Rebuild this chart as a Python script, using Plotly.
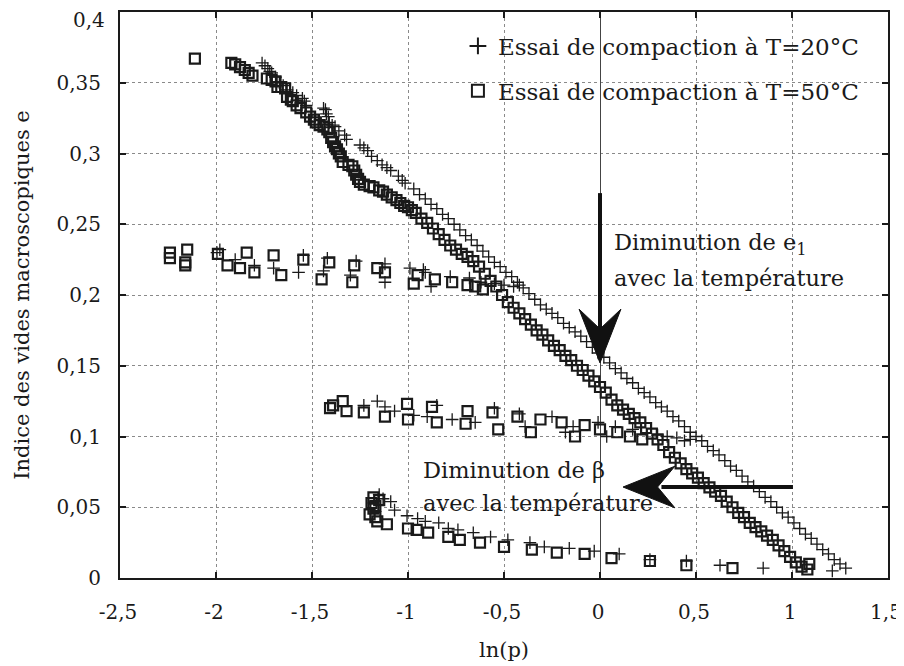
import plotly.graph_objects as go

# ---------------- data ----------------
# 20 °C test (markers "+")
x20_main = [-1.76, -1.745, -1.73, -1.72, -1.71, -1.69, -1.67, -1.65, -1.63, -1.60, -1.58, -1.55, -1.54, -1.53,
            -1.44, -1.43, -1.425, -1.415, -1.41, -1.395, -1.38, -1.36, -1.33, -1.32,
            -1.25, -1.23, -1.21, -1.19, -1.16, -1.135, -1.11, -1.09, -1.05, -1.03, -1.015,
            -0.97, -0.94, -0.91, -0.88, -0.85, -0.82, -0.79, -0.76, -0.73, -0.70, -0.67, -0.64, -0.61,
            -0.58, -0.55, -0.52, -0.49, -0.46, -0.43, -0.40, -0.37, -0.34, -0.31, -0.28, -0.25, -0.22,
            -0.19, -0.16, -0.13, -0.10, -0.07, -0.04, -0.01, 0.02, 0.05, 0.08, 0.11, 0.14, 0.17, 0.20,
            0.23, 0.26, 0.29, 0.32, 0.35, 0.38, 0.41, 0.44, 0.47, 0.50, 0.53, 0.56, 0.59, 0.62, 0.65,
            0.68, 0.71, 0.74, 0.77, 0.80, 0.83, 0.86, 0.89, 0.92, 0.95, 0.98, 1.01, 1.04, 1.07, 1.10,
            1.13, 1.16, 1.19, 1.22, 1.25, 1.28]
y20_main = [0.364, 0.362, 0.360, 0.358, 0.357, 0.354, 0.350, 0.348, 0.345, 0.343, 0.341, 0.339, 0.337, 0.334,
            0.332, 0.331, 0.328, 0.326, 0.322, 0.320, 0.319, 0.316, 0.313, 0.310,
            0.306, 0.304, 0.302, 0.298, 0.295, 0.292, 0.290, 0.288, 0.284, 0.281, 0.279,
            0.275, 0.271, 0.268, 0.264, 0.261, 0.257, 0.254, 0.250, 0.246, 0.242, 0.239, 0.235, 0.231,
            0.227, 0.223, 0.220, 0.216, 0.213, 0.209, 0.205, 0.201, 0.197, 0.193, 0.190, 0.187, 0.184,
            0.180, 0.177, 0.174, 0.171, 0.167, 0.163, 0.159, 0.156, 0.152, 0.148, 0.145, 0.141, 0.138, 0.134,
            0.131, 0.128, 0.124, 0.121, 0.118, 0.114, 0.111, 0.107, 0.103, 0.100, 0.097, 0.093, 0.090, 0.087, 0.083,
            0.079, 0.076, 0.072, 0.068, 0.065, 0.061, 0.057, 0.054, 0.050, 0.046, 0.043, 0.039, 0.035, 0.031, 0.028,
            0.024, 0.020, 0.017, 0.013, 0.010, 0.007]
x20_cycles = [-1.995, -1.98, -1.90, -1.80, -1.70, -1.57, -1.545, -1.44, -1.42, -1.30, -1.27, -1.12, -1.12,
              -0.99, -0.92, -0.91, -0.88, -0.78, -0.68, -0.62, -0.55, -0.50, -0.45, -0.42,
              -1.23, -1.16, -1.12, -1.07, -0.97, -0.90, -0.85, -0.77, -0.65, -0.55, -0.42, -0.39, -0.25,
              -0.18, -0.14, -0.01, 0.035, 0.08, 0.17, 0.30, 0.35, 0.40, 0.44, 0.47,
              -1.15, -1.13, -1.09, -1.07, -1.005, -0.95, -0.91, -0.84, -0.79, -0.74, -0.66, -0.57, -0.48,
              -0.365, -0.29, -0.16, -0.03, 0.10, 0.26, 0.45, 0.625, 0.85, 1.21]
y20_cycles = [0.230, 0.232, 0.225, 0.221, 0.219, 0.216, 0.228, 0.217, 0.226, 0.214, 0.224, 0.222, 0.209,
              0.219, 0.218, 0.216, 0.206, 0.213, 0.212, 0.209, 0.208, 0.207, 0.206, 0.207,
              0.122, 0.125, 0.121, 0.118, 0.115, 0.114, 0.122, 0.112, 0.110, 0.120, 0.116, 0.107, 0.114,
              0.103, 0.107, 0.110, 0.100, 0.107, 0.105, 0.101, 0.100, 0.099, 0.097, 0.098,
              0.059, 0.056, 0.054, 0.048, 0.044, 0.042, 0.040, 0.039, 0.035, 0.034, 0.032, 0.029, 0.027,
              0.025, 0.022, 0.021, 0.019, 0.017, 0.013, 0.012, 0.009, 0.007, 0.005]

# 50 °C test (open squares)
x50_main = [-2.11, -1.92, -1.90, -1.875, -1.85, -1.83, -1.81, -1.735, -1.71, -1.69, -1.68, -1.66, -1.64, -1.63,
            -1.61, -1.60, -1.58, -1.56, -1.53, -1.51, -1.49, -1.48, -1.46, -1.44, -1.42, -1.41, -1.40,
            -1.39, -1.38, -1.37, -1.36, -1.35, -1.34, -1.31, -1.29, -1.28, -1.27, -1.26, -1.25, -1.23,
            -1.20, -1.18, -1.15, -1.13, -1.11, -1.085, -1.06, -1.04, -1.02, -1.00, -0.98,
            -0.96, -0.93, -0.90, -0.87, -0.84, -0.81, -0.78, -0.75, -0.72, -0.69, -0.66, -0.63, -0.60,
            -0.57, -0.54, -0.51, -0.48, -0.45, -0.42, -0.39, -0.36, -0.33, -0.30, -0.27, -0.24, -0.21,
            -0.18, -0.15, -0.12, -0.09, -0.06, -0.03, 0.00, 0.03, 0.06, 0.09, 0.12, 0.15, 0.18, 0.21,
            0.24, 0.27, 0.30, 0.33, 0.36, 0.39, 0.42, 0.45, 0.48, 0.51, 0.54, 0.57, 0.60, 0.63, 0.66,
            0.69, 0.72, 0.75, 0.78, 0.81, 0.84, 0.87, 0.90, 0.93, 0.96, 0.99, 1.02, 1.05, 1.08, 1.09]
y50_main = [0.367, 0.364, 0.363, 0.361, 0.359, 0.357, 0.355, 0.353, 0.352, 0.351, 0.347, 0.347, 0.346, 0.340,
            0.338, 0.337, 0.334, 0.332, 0.329, 0.326, 0.324, 0.322, 0.320, 0.319, 0.317, 0.315, 0.311,
            0.308, 0.305, 0.303, 0.300, 0.298, 0.294, 0.292, 0.291, 0.288, 0.285, 0.282, 0.280, 0.278,
            0.277, 0.276, 0.274, 0.273, 0.271, 0.269, 0.267, 0.265, 0.263, 0.262, 0.260,
            0.258, 0.254, 0.251, 0.247, 0.243, 0.239, 0.235, 0.232, 0.229, 0.227, 0.224, 0.220, 0.215,
            0.210, 0.206, 0.200, 0.195, 0.191, 0.187, 0.183, 0.179, 0.175, 0.172, 0.168, 0.164, 0.161,
            0.157, 0.154, 0.150, 0.147, 0.143, 0.139, 0.135, 0.131, 0.126, 0.122, 0.119, 0.116, 0.113, 0.110,
            0.106, 0.102, 0.098, 0.094, 0.089, 0.085, 0.081, 0.077, 0.074, 0.071, 0.067, 0.064, 0.061, 0.058, 0.054,
            0.050, 0.046, 0.043, 0.039, 0.036, 0.033, 0.030, 0.027, 0.023, 0.019, 0.015, 0.011, 0.008, 0.006, 0.010]
x50_cycles = [-2.24, -2.24, -2.16, -2.15, -2.16, -1.99, -1.94, -1.875, -1.84, -1.80, -1.70, -1.66, -1.545,
              -1.45, -1.41, -1.28, -1.29, -1.16, -1.12, -0.97, -0.95, -0.86, -0.77, -0.69, -0.65, -0.61,
              -1.406, -1.39, -1.34, -1.32, -1.23, -1.12, -1.005, -1.00, -0.875, -0.85, -0.69, -0.70, -0.56,
              -0.53, -0.43, -0.36, -0.31, -0.20, -0.13, -0.08, 0.00, 0.09, 0.156, 0.22,
              -1.18, -1.19, -1.20, -1.18, -1.17, -1.15, -1.16, -1.17, -1.11, -1.00, -0.955, -0.895, -0.79,
              -0.73, -0.625, -0.50, -0.355, -0.225, -0.08, 0.06, 0.26, 0.45, 0.69]
y50_cycles = [0.230, 0.226, 0.223, 0.232, 0.221, 0.229, 0.221, 0.219, 0.230, 0.216, 0.228, 0.214, 0.225,
              0.211, 0.223, 0.221, 0.209, 0.219, 0.216, 0.208, 0.214, 0.211, 0.209, 0.207, 0.206, 0.204,
              0.120, 0.122, 0.125, 0.118, 0.117, 0.114, 0.123, 0.112, 0.121, 0.110, 0.118, 0.109, 0.117,
              0.105, 0.114, 0.103, 0.112, 0.110, 0.100, 0.108, 0.105, 0.103, 0.100, 0.098,
              0.057, 0.053, 0.045, 0.049, 0.051, 0.055, 0.040, 0.043, 0.038, 0.035, 0.034, 0.032, 0.029,
              0.027, 0.025, 0.022, 0.020, 0.018, 0.017, 0.014, 0.012, 0.009, 0.007]

series_names = ["Essai de compaction à T=20°C", "Essai de compaction à T=50°C"]
x_ticks = [-2.5, -2.0, -1.5, -1.0, -0.5, 0.0, 0.5, 1.0, 1.5]
x_ticktext = ["-2,5", "-2", "-1,5", "-1", "-0,5", "0", "0,5", "1", "1,5"]
y_ticks = [0, 0.05, 0.1, 0.15, 0.2, 0.25, 0.3, 0.35]
y_ticktext = ["0", "0,05", "0,1", "0,15", "0,2", "0,25", "0,3", "0,35"]
y_top_label = "0,4"   # top tick label, drawn slightly below the top border as in the original

FONT = "DejaVu Serif"
INK = "#1a1a1a"
TICK_SIZE = 20

fig = go.Figure()
fig.add_trace(go.Scatter(
    x=x20_main + x20_cycles, y=y20_main + y20_cycles, mode="markers", name=series_names[0],
    legendgroup="a",
    marker=dict(symbol="cross-thin", size=9, line=dict(width=1.3, color=INK), color=INK)))
fig.add_trace(go.Scatter(
    x=x50_main + x50_cycles, y=y50_main + y50_cycles, mode="markers", name=series_names[1],
    legendgroup="b",
    marker=dict(symbol="square-open", size=10, line=dict(width=2.2, color=INK), color=INK)))

# arrows (annotation graphics)
shapes = [
    dict(type="line", x0=0, x1=0, y0=0.272, y1=0.175, line=dict(color="#111", width=4), layer="above"),
    dict(type="path", path="M 0 0.152 L 0.109 0.190 L 0 0.176 L -0.109 0.190 Z",
         fillcolor="#111", line=dict(color="#111", width=1), layer="above"),
    dict(type="line", x0=1.005, x1=0.32, y0=0.0643, y1=0.0643, line=dict(color="#111", width=4), layer="above"),
    dict(type="path", path="M 0.12 0.0643 L 0.39 0.0790 L 0.30 0.0643 L 0.39 0.0496 Z",
         fillcolor="#111", line=dict(color="#111", width=1), layer="above"),
]

annots = [
    dict(x=0.062, y=0.236, text="Diminution de e<sub>1</sub>", xanchor="left", yanchor="middle"),
    dict(x=0.062, y=0.212, text="avec la température", xanchor="left", yanchor="middle"),
    dict(x=-0.93, y=0.0765, text="Diminution de β", xanchor="left", yanchor="middle"),
    dict(x=-0.93, y=0.053, text="avec la température", xanchor="left", yanchor="middle"),
]
for a in annots:
    a.update(xref="x", yref="y", showarrow=False, font=dict(family=FONT, size=22.5, color=INK))
annots.append(dict(xref="paper", yref="paper", x=-0.017, y=0.9855, xanchor="right", yanchor="middle",
                   text=y_top_label, showarrow=False, font=dict(family=FONT, size=TICK_SIZE, color=INK)))

axis_common = dict(
    showline=True, linecolor=INK, linewidth=2, mirror="ticks",
    ticks="inside", ticklen=6, tickwidth=1.5, tickcolor=INK,
    showgrid=True, gridcolor="#8a8a8a", gridwidth=1, griddash="dot",
    tickfont=dict(family=FONT, size=TICK_SIZE, color=INK),
    ticklabeloverflow="allow",
    automargin=False,
)

fig.update_layout(
    width=904, height=666,
    margin=dict(l=112, r=24, t=4, b=96),
    plot_bgcolor="white", paper_bgcolor="white",
    font=dict(family=FONT, size=22, color=INK),
    shapes=shapes, annotations=annots,
    legend=dict(x=0.44, y=0.978, xanchor="left", yanchor="top", bgcolor="rgba(0,0,0,0)",
                font=dict(family=FONT, size=23, color=INK), tracegroupgap=12,
                itemsizing="constant"),
    xaxis=dict(range=[-2.5, 1.5], tickvals=x_ticks, ticktext=x_ticktext,
               zeroline=True, zerolinecolor="#444", zerolinewidth=1.3,
               ticklabelstandoff=15, ticklabelshift=-2,
               title=dict(text="ln(p)", font=dict(family=FONT, size=21, color=INK), standoff=19),
               **axis_common),
    yaxis=dict(range=[0, 0.4], tickvals=y_ticks, ticktext=y_ticktext, zeroline=False,
               ticklabelstandoff=13,
               title=dict(text="Indice des vides macroscopiques e",
                          font=dict(family=FONT, size=21, color=INK), standoff=21),
               **axis_common),
)

fig.write_html("out.html")
